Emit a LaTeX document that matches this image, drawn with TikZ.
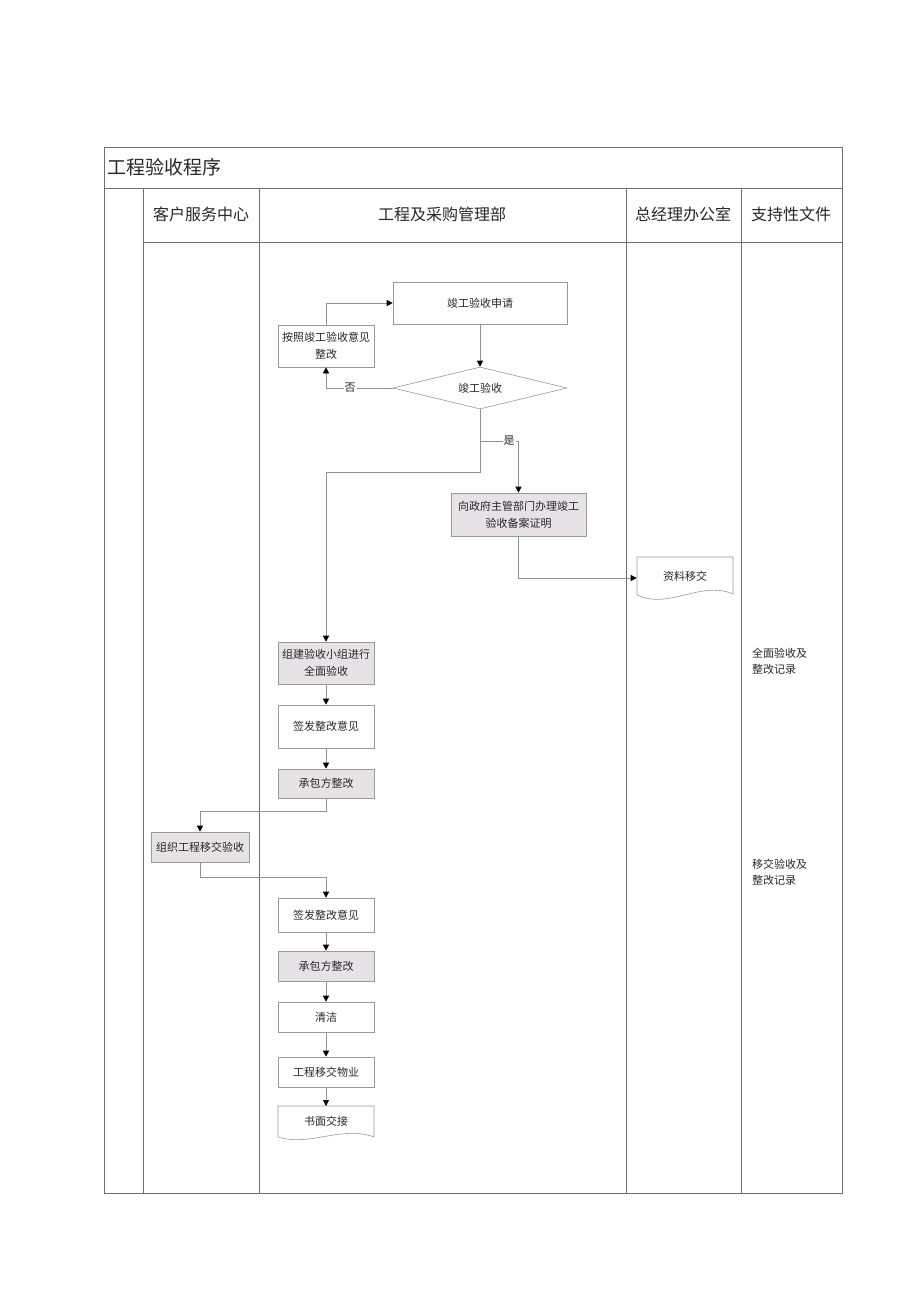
\documentclass[tikz,border=0pt]{standalone}
\usepackage{fontspec}
\setmainfont{Noto Sans CJK SC}
\usetikzlibrary{shapes.geometric,arrows.meta}
\definecolor{tabline}{RGB}{110,110,110}
\definecolor{boxline}{RGB}{150,155,150}
\definecolor{conline}{RGB}{140,150,140}
\definecolor{shadefill}{RGB}{230,226,230}
\definecolor{txt}{RGB}{40,40,40}
\begin{document}
\begin{tikzpicture}[x=1pt,y=-1pt,
  tab/.style={draw=tabline,line width=0.7pt},
  box/.style={draw=boxline,line width=0.6pt,minimum width=96pt,minimum height=42pt,inner sep=1pt,align=center,text=txt,font=\fontsize{11}{17}\selectfont},
  shadebox/.style={box,fill=shadefill},
  plain/.style={inner sep=0pt,align=center,text=txt},
  conn/.style={draw=conline,line width=0.6pt,-{Triangle[length=6pt,width=6pt,color=black]}},
  lab/.style={fill=white,inner sep=1pt,text=txt,font=\fontsize{11}{13}\selectfont}]
\useasboundingbox (0,0) rectangle (920,1302);
\fill[white] (0,0) rectangle (920,1302);
% table
\draw[tab] (104,147) rectangle (842,1193);
\draw[tab] (104,188) -- (842,188);
\draw[tab] (143,242) -- (842,242);
\foreach \xx in {143,259,626,741} \draw[tab] (\xx,188) -- (\xx,1193);
\node[plain,anchor=west,font=\fontsize{19}{21}\selectfont] (title) at (107,167) {工程验收程序};
\node[plain,font=\fontsize{16}{18}\selectfont] (h1) at (201,214) {客户服务中心};
\node[plain,font=\fontsize{16}{18}\selectfont] (h2) at (442,214) {工程及采购管理部};
\node[plain,font=\fontsize{16}{18}\selectfont] (h3) at (683,214) {总经理办公室};
\node[plain,font=\fontsize{16}{18}\selectfont] (h4) at (791,214) {支持性文件};
% supporting docs
\node[plain,anchor=north west,align=left,font=\fontsize{11}{16}\selectfont] (s1) at (752,648) {全面验收及\\整改记录};
\node[plain,anchor=north west,align=left,font=\fontsize{11}{16}\selectfont] (s2) at (752,859) {移交验收及\\整改记录};
% flow nodes
\node[box,minimum width=174pt,minimum height=42pt] (apply) at (480,303) {竣工验收申请};
\node[box] (fix) at (326,346) {按照竣工验收意见\\整改};
\node[draw=boxline,line width=0.6pt,diamond,aspect=4,inner sep=0pt,minimum width=174pt,minimum height=42pt,text=txt,font=\fontsize{11}{13}\selectfont] (dia) at (480,388) {竣工验收};
\node[shadebox,minimum width=135pt,minimum height=43pt] (gov) at (518.5,514.5) {向政府主管部门办理竣工\\验收备案证明};
\node[box,draw=none,minimum height=40pt] (doc1) at (685,578) {\raisebox{5pt}{资料移交}};
\draw[draw=boxline,line width=0.6pt] (637,595) -- (637,557) -- (733,557) -- (733,594) .. controls (701,580) and (669,610) .. (637,595);
\node[shadebox] (team) at (326,663) {组建验收小组进行\\全面验收};
\node[box,minimum height=43pt] (sign1) at (326,726.5) {签发整改意见};
\node[shadebox,minimum height=29pt] (con1) at (326,783.5) {承包方整改};
\node[shadebox,minimum width=98pt,minimum height=30pt] (org) at (200,847) {组织工程移交验收};
\node[box,minimum height=34pt] (sign2) at (326,915) {签发整改意见};
\node[shadebox,minimum height=30pt] (con2) at (326,966) {承包方整改};
\node[box,minimum height=30pt] (clean) at (326,1017) {清洁};
\node[box,minimum height=30pt] (hand) at (326,1072) {工程移交物业};
\node[box,draw=none,minimum height=30pt] (doc2) at (326,1121) {书面交接};
\draw[draw=boxline,line width=0.6pt] (278,1137) -- (278,1106) -- (374,1106) -- (374,1137) .. controls (342,1125) and (310,1147) .. (278,1137);
% connectors
\draw[conn] (fix.north) |- (apply.west);
\draw[conn] (apply.south) -- (dia.north);
\draw[conn] (dia.west) -| (fix.south);
\node[lab] (no) at (350,388) {否};
\draw[conn] (dia.south) -- (480,441) -| (gov.north);
\node[lab] (yes) at (509,441) {是};
\draw[conn] (dia.south) -- (480,472) -| (team.north);
\draw[conn] (gov.south) |- (doc1.west);
\draw[conn] (team) -- (sign1);
\draw[conn] (sign1) -- (con1);
\draw[conn] (con1.south) -- (326,811) -| (org.north);
\draw[conn] (org.south) -- (200,877) -| (sign2.north);
\draw[conn] (sign2) -- (con2);
\draw[conn] (con2) -- (clean);
\draw[conn] (clean) -- (hand);
\draw[conn] (hand.south) -- (326,1106);
\end{tikzpicture}
\end{document}
